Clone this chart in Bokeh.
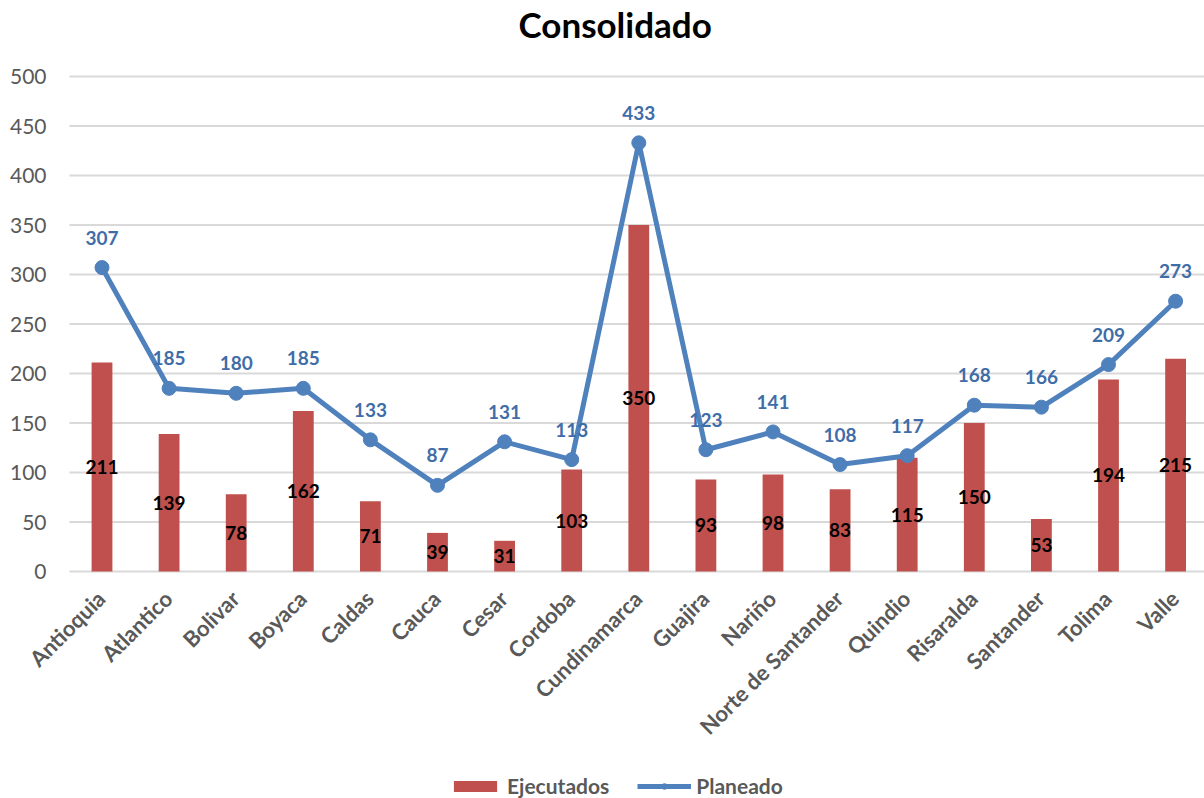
from bokeh.plotting import figure
from bokeh.models import ColumnDataSource, Legend, LegendItem, Range1d, Title
from bokeh.core.properties import value
from bokeh.embed import file_html
from bokeh.resources import INLINE
import math

categories = ["Antioquia", "Atlantico", "Bolivar", "Boyaca", "Caldas", "Cauca", "Cesar",
              "Cordoba", "Cundinamarca", "Guajira", "Nariño", "Norte de Santander",
              "Quindio", "Risaralda", "Santander", "Tolima", "Valle"]
ejecutados = [211, 139, 78, 162, 71, 39, 31, 103, 350, 93, 98, 83, 115, 150, 53, 194, 215]
planeado = [307, 185, 180, 185, 133, 87, 131, 113, 433, 123, 141, 108, 117, 168, 166, 209, 273]
yticks = [0, 50, 100, 150, 200, 250, 300, 350, 400, 450, 500]
ytick_labels = [str(t) for t in yticks]

FONT = "Lato"
RED = "#C0504D"
BLUE = "#4F81BD"
GRAY = "#595959"

# layout (pixels -> data units)
TOP = 64
PX_PER_CAT = 67.1
X0 = -101.5 / PX_PER_CAT
X1 = X0 + 1204 / PX_PER_CAT
GRID_X0 = (69 - 101.5) / PX_PER_CAT
Y0 = -227 / 0.99
Y1 = 500 + (76 - TOP) / 0.99

idx = list(range(len(categories)))
src = ColumnDataSource(dict(
    x=idx,
    cat=categories,
    ej=ejecutados,
    ej_half=[v / 2 for v in ejecutados],
    ej_txt=[str(v) for v in ejecutados],
    pl=planeado,
    pl_txt=[str(v) for v in planeado],
))
grid_src = ColumnDataSource(dict(t=yticks, lab=ytick_labels))

p = figure(frame_width=1204, frame_height=798 - TOP, output_backend="svg", toolbar_location=None,
           title=None, x_axis_location=None, y_axis_location=None,
           x_range=Range1d(X0, X1), y_range=Range1d(Y0, Y1),
           min_border_left=0, min_border_right=0, min_border_top=TOP, min_border_bottom=0)

p.xgrid.visible = False
p.ygrid.visible = False
p.outline_line_color = None
p.background_fill_color = "white"
p.border_fill_color = "white"

# title (spacer nearest to frame, then the title)
spacer = Title(text=" ", text_font=FONT, text_font_size="15px", standoff=0)
p.add_layout(spacer, "above")
main_title = Title(text="Consolidado", text_font=FONT, text_font_size="35px",
                   text_font_style="bold", text_color="#000000", align="left",
                   offset=518, standoff=0)
p.add_layout(main_title, "above")

# gridlines and y tick labels
p.segment(x0=GRID_X0, y0="t", x1=X1, y1="t", source=grid_src,
          line_color="#D9D9D9", line_width=2)
p.text(x=GRID_X0, y="t", text="lab", source=grid_src, text_font=value(FONT),
       text_font_size="21px", text_color=GRAY, text_align="right",
       text_baseline="middle", x_offset=-23)

bars = p.vbar(x="x", top="ej", width=0.31, source=src, fill_color=RED, line_color=None)
line = p.line(x="x", y="pl", source=src, line_color=BLUE, line_width=5)
circ = p.scatter(x="x", y="pl", source=src, size=14, fill_color=BLUE, line_color=BLUE)

p.text(x="x", y="ej_half", text="ej_txt", source=src, text_font=value(FONT),
       text_font_style="bold", text_font_size="19px", text_color="#000000",
       text_align="center", text_baseline="middle")
p.text(x="x", y="pl", text="pl_txt", source=src, text_font=value(FONT),
       text_font_style="bold", text_font_size="19px", text_color="#3F6DA8",
       text_align="center", text_baseline="middle", y_offset=-30)

# category labels (rotated 45 degrees)
p.text(x="x", y=0, text="cat", source=src, text_font=value(FONT),
       text_font_style="bold", text_font_size="22px", text_color=GRAY,
       text_align="right", text_baseline="middle", angle=math.pi / 4,
       x_offset=-1, y_offset=23)

legend = Legend(items=[LegendItem(label="Ejecutados", renderers=[bars]),
                       LegendItem(label="Planeado", renderers=[line, circ])],
                orientation="horizontal", location=(448, 0),
                label_text_font=FONT, label_text_font_size="21px",
                label_text_font_style="bold", label_text_color=GRAY,
                glyph_width=54, glyph_height=14, spacing=28, padding=0, margin=0,
                border_line_color=None, background_fill_alpha=0)
p.add_layout(legend, "center")

open("out.html", "w").write(file_html(p, INLINE))
